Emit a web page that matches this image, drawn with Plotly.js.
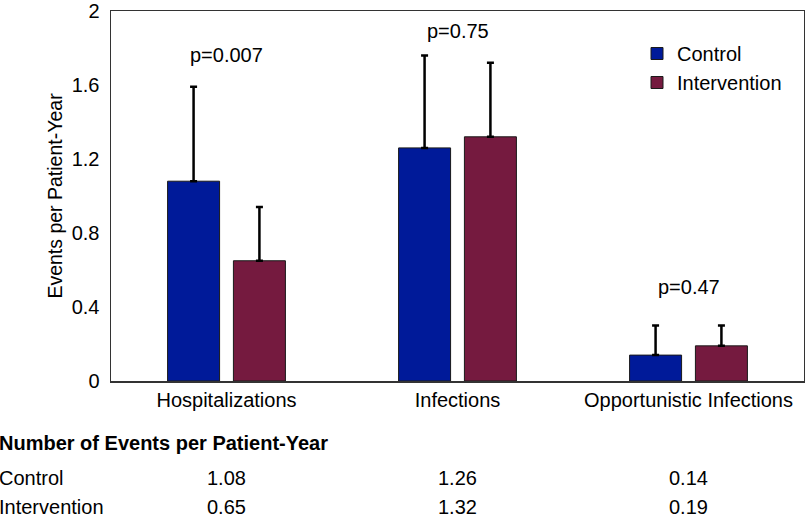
<!DOCTYPE html>
<html>
<head>
<meta charset="utf-8">
<script src="https://cdn.plot.ly/plotly-3.0.1.min.js"></script>
<style>html,body{margin:0;padding:0;background:#fff;}#chart{width:805px;height:518px;}</style>
</head>
<body>
<div id="chart"></div>
<script>
const categories = ['Hospitalizations', 'Infections', 'Opportunistic Infections'];
const controlValues = [1.08, 1.26, 0.14];
const interventionValues = [0.65, 1.32, 0.19];
const controlErr = [0.51, 0.50, 0.16];
const interventionErr = [0.29, 0.40, 0.11];
const pLabels = ['p=0.007', 'p=0.75', 'p=0.47'];
const pLabelY = [1.76, 1.89, 0.51];
const tableTitle = 'Number of Events per Patient-Year';
const seriesNames = ['Control', 'Intervention'];
const yTicks = [0, 0.4, 0.8, 1.2, 1.6, 2];

const FONT = 'Liberation Sans, Arial, Helvetica, sans-serif';
const FS = 20;

const traces = [
  {
    type: 'bar', name: seriesNames[0], x: categories, y: controlValues,
    marker: {color: '#001a99', line: {color: '#1a1a1a', width: 1}},
    error_y: {type: 'data', symmetric: false, array: controlErr, arrayminus: controlErr.map(() => 0),
              color: '#000', thickness: 2.5, width: 3.5}
  },
  {
    type: 'bar', name: seriesNames[1], x: categories, y: interventionValues,
    marker: {color: '#751a3f', line: {color: '#1a1a1a', width: 1}},
    error_y: {type: 'data', symmetric: false, array: interventionErr, arrayminus: interventionErr.map(() => 0),
              color: '#000', thickness: 2.5, width: 3.5}
  }
];

const annotations = [];
categories.forEach((c, i) => {
  annotations.push({x: c, y: pLabelY[i], xref: 'x', yref: 'y', text: pLabels[i], showarrow: false,
    font: {size: FS, color: '#000', family: FONT}, xanchor: 'center', yanchor: 'middle'});
});
// table
const plotTop = 11, plotBottom = 381, plotH = plotBottom - plotTop;
const plotLeft = 111, plotW = 693;
const py = p => (plotBottom - p) / plotH;
const px = p => (p - plotLeft) / plotW;
annotations.push({x: px(-3), y: py(443), xref: 'paper', yref: 'paper', text: '<b>' + tableTitle + '</b>',
  showarrow: false, xanchor: 'left', yanchor: 'middle', font: {size: FS, color: '#000', family: FONT}});
const rows = [[seriesNames[0], controlValues, 478], [seriesNames[1], interventionValues, 507]];
rows.forEach(r => {
  annotations.push({x: px(-3), y: py(r[2]), xref: 'paper', yref: 'paper', text: r[0],
    showarrow: false, xanchor: 'left', yanchor: 'middle', font: {size: FS, color: '#000', family: FONT}});
  categories.forEach((c, i) => {
    annotations.push({x: c, y: py(r[2]), xref: 'x', yref: 'paper', text: r[1][i].toFixed(2),
      showarrow: false, xanchor: 'center', yanchor: 'middle', font: {size: FS, color: '#000', family: FONT}});
  });
});

const layout = {
  width: 805, height: 518,
  margin: {l: plotLeft, r: 805 - plotLeft - plotW, t: plotTop, b: 518 - plotBottom, pad: 0},
  paper_bgcolor: '#fff', plot_bgcolor: '#fff',
  font: {family: FONT, size: FS, color: '#000'},
  barmode: 'group', bargap: 0.43, bargroupgap: 0.21,
  showlegend: true,
  legend: {x: px(637), y: py(34), xanchor: 'left', yanchor: 'top', bgcolor: 'rgba(0,0,0,0)',
           font: {size: FS, family: FONT, color: '#000'}, tracegroupgap: 0, itemclick: false},
  xaxis: {type: 'category', showline: true, mirror: true, linecolor: '#333', linewidth: 1.5,
          ticks: '', showgrid: false, zeroline: false, tickfont: {size: FS, family: FONT, color: '#000'}},
  yaxis: {range: [0, 2], tickvals: yTicks, ticktext: yTicks.map(v => String(v)),
          showline: true, mirror: true, linecolor: '#333', linewidth: 1.5,
          ticks: '', showgrid: false, zeroline: false, ticklabelstandoff: 6,
          tickfont: {size: FS, family: FONT, color: '#000'},
          title: {text: 'Events per Patient-Year', font: {size: 19.5, family: FONT, color: '#000'}, standoff: 4}},
  annotations: annotations
};

Plotly.newPlot('chart', traces, layout, {staticPlot: true, displayModeBar: false});
</script>
</body>
</html>
